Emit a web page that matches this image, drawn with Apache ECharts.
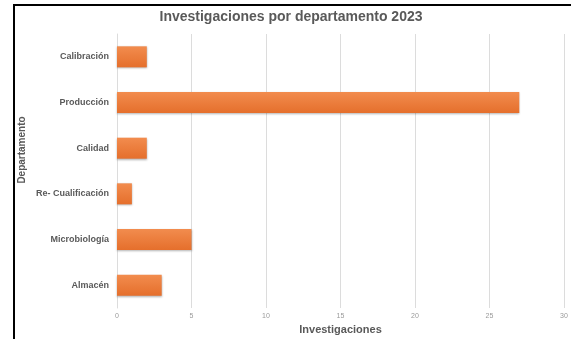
<!DOCTYPE html>
<html>
<head>
<meta charset="utf-8">
<script src="https://cdn.jsdelivr.net/npm/echarts@6/dist/echarts.min.js"></script>
<style>
html, body { margin:0; padding:0; background:#fff; }
#frame { position:absolute; left:13px; top:4px; width:558px; height:335px; border-left:2px solid #000; border-top:2px solid #000; }
#chart { position:absolute; left:0; top:0; width:571px; height:339px; }
</style>
</head>
<body>
<div id="frame"></div>
<div id="chart"></div>
<script>
// departamentos (de abajo hacia arriba)
var departamentos = ['Almacén','Microbiología','Re- Cualificación','Calidad','Producción','Calibración'];
var investigaciones = [3, 5, 1, 2, 27, 2];
var ticksX = [0, 5, 10, 15, 20, 25, 30];

var dom = document.getElementById("chart");
var myChart = echarts.init(dom);
var option = {
	animation: false,
	textStyle: { fontFamily: 'Liberation Sans' },
	grid: { left: 117, right: 7, top: 34, bottom: 31, containLabel: false, outerBoundsMode: 'none' },
	graphic: [
		{ type:'text', x: 291, y: 17, style: { text: 'Investigaciones por departamento 2023', fill:'#595959', font:'bold 14px Liberation Sans', align:'center', verticalAlign:'middle' } },
		{ type:'text', x: 22, y: 150, rotation: Math.PI/2, style: { text: 'Departamento', fill:'#595959', font:'bold 10px Liberation Sans', align:'center', verticalAlign:'middle' } }
	],
	xAxis: {
		type: 'value',
		min: ticksX[0],
		max: ticksX[ticksX.length-1],
		interval: 5,
		name: 'Investigaciones',
		nameLocation: 'middle',
		nameGap: 16,
		nameTextStyle: { color: '#595959', fontSize: 11, fontWeight: 'bold' },
		axisLine: { show: false },
		axisTick: { show: false },
		splitLine: { lineStyle: { color: '#dcdcdc', width: 1 } },
		axisLabel: { color: '#9a9a9a', fontSize: 7, margin: 5 }
	},
	yAxis: {
		type: 'category',
		data: departamentos,
		axisLine: { show: true, lineStyle: { color: '#dcdcdc' } },
		axisTick: { show: false },
		axisLabel: { color: '#595959', fontSize: 9, fontWeight: 'bold', margin: 8 }
	},
	series: [{
		name: 'Investigaciones',
		type: 'bar',
		data: investigaciones,
		barWidth: '46%',
		itemStyle: {
			color: new echarts.graphic.LinearGradient(0, 0, 0, 1, [
				{ offset: 0, color: '#f28c4e' },
				{ offset: 1, color: '#e56f2c' }
			]),
			shadowColor: 'rgba(0,0,0,0.3)',
			shadowBlur: 2,
			shadowOffsetY: 1
		}
	}]
};
myChart.setOption(option, true);
</script>
</body>
</html>
